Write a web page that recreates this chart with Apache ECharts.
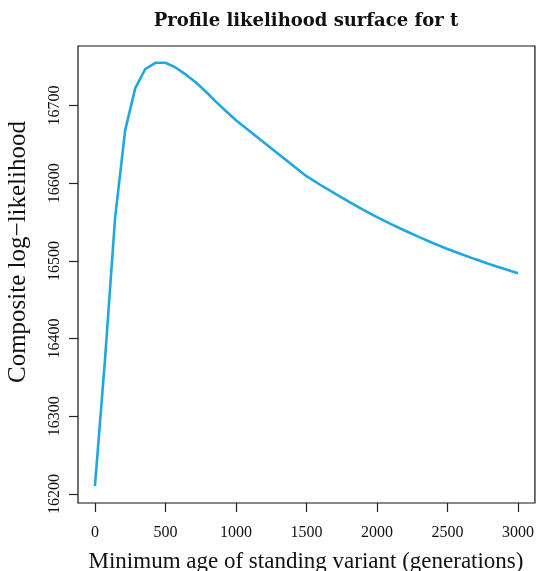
<!DOCTYPE html>
<html>
<head>
<meta charset="utf-8">
<script src="https://cdn.jsdelivr.net/npm/echarts@6/dist/echarts.min.js"></script>
<style>
html,body{margin:0;padding:0;background:#fff;}
#chart{width:537px;height:571px;}
</style>
</head>
<body>
<div id="chart"></div>
<script>
// Data
const minAge = [0, 71.4, 142.9, 214.3, 285.7, 357.1, 428.6, 500, 571.4, 642.9, 714.3, 785.7, 857.1, 928.6, 1000,
  1500, 1600, 1700, 1800, 1900, 2000, 2100, 2200, 2300, 2400, 2500, 2600, 2700, 2800, 2900, 3000];
const compositeLogLik = [16210, 16373, 16555, 16668, 16722, 16747, 16755, 16755, 16749, 16740, 16730, 16718, 16705, 16693, 16681,
  16609, 16597.7, 16586.9, 16576.3, 16566.1, 16556.4, 16547.4, 16538.8, 16530.6, 16522.7, 16515.4, 16508.5, 16502.0, 16495.8, 16489.8, 16484.1];
const xTicks = [0, 500, 1000, 1500, 2000, 2500, 3000];
const yTicks = [16200, 16300, 16400, 16500, 16600, 16700];

const titleText = 'Profile likelihood surface for t';
const xLabelText = 'Minimum age of standing variant (generations)';
const yLabelText = 'Composite log\u2212likelihood';

const serif = '"Liberation Serif", "DejaVu Serif", serif';

const chart = echarts.init(document.getElementById('chart'), null, {renderer: 'canvas'});
chart.setOption({
  animation: false,
  backgroundColor: '#ffffff',
  grid: {left: 78, right: 2, top: 46, bottom: 68, show: true, borderColor: '#111', borderWidth: 1.2, backgroundColor: 'transparent'},
  xAxis: {
    type: 'value', min: -120, max: 3120,
    axisLine: {show: false, onZero: false},
    splitLine: {show: false},
    axisTick: {show: true, customValues: xTicks, length: 9, inside: false, lineStyle: {color: '#222', width: 1.2}},
    axisLabel: {customValues: xTicks, margin: 22, color: '#111', fontFamily: serif, fontSize: 16, formatter: v => String(v)}
  },
  yAxis: {
    type: 'value', min: 16188.4, max: 16776.6,
    axisLine: {show: false, onZero: false},
    splitLine: {show: false},
    axisTick: {show: true, customValues: yTicks, length: 9, inside: false, lineStyle: {color: '#222', width: 1.2}},
    axisLabel: {customValues: yTicks, rotate: 90, margin: 15, color: '#111', fontFamily: serif, fontSize: 16, formatter: v => String(v)}
  },
  series: [{
    type: 'line',
    data: minAge.map((x, i) => [x, compositeLogLik[i]]),
    showSymbol: false,
    smooth: false,
    lineStyle: {color: '#1fa7e1', width: 2.6},
    itemStyle: {color: '#1fa7e1'}
  }],
  graphic: [
    {type: 'text', x: 306, y: 21, style: {text: titleText, font: 'bold 18px "DejaVu Serif", serif', fill: '#111', textAlign: 'center', textVerticalAlign: 'middle'}},
    {type: 'text', x: 306, y: 562, style: {text: xLabelText, font: '23px ' + serif, fill: '#111', textAlign: 'center', textVerticalAlign: 'middle'}},
    {type: 'text', x: 18, y: 252, rotation: Math.PI / 2, style: {text: yLabelText, font: '25px ' + serif, fill: '#111', textAlign: 'center', textVerticalAlign: 'middle'}}
  ]
});
</script>
</body>
</html>
